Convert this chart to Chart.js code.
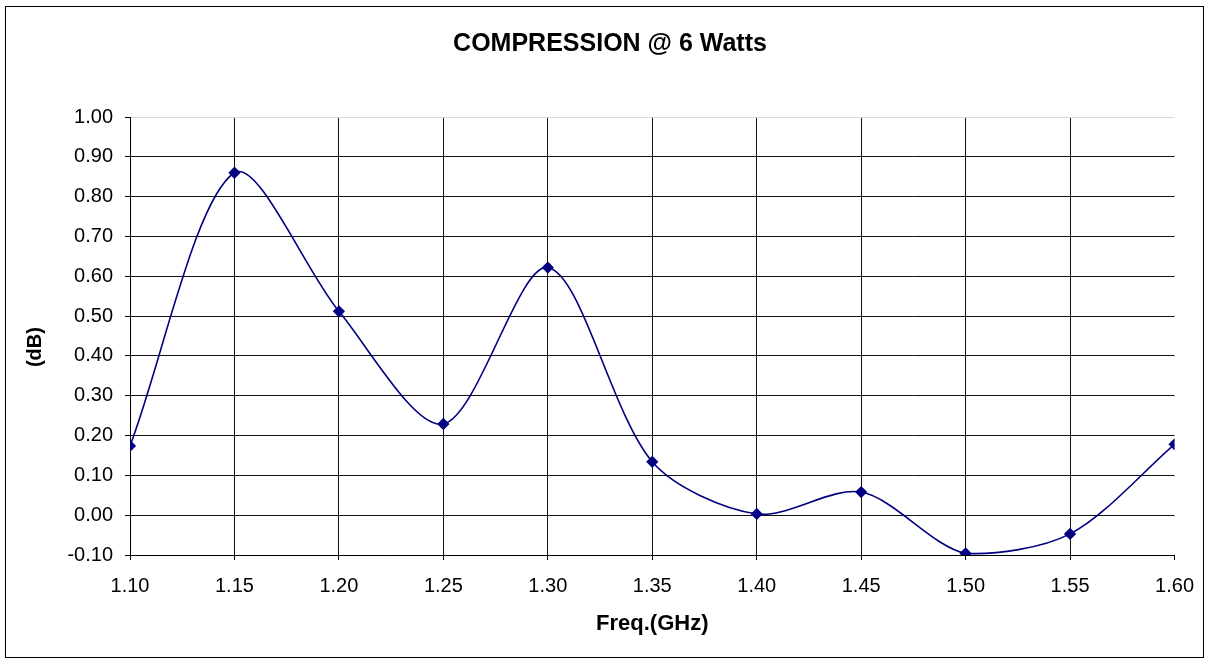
<!DOCTYPE html>
<html>
<head>
<meta charset="utf-8">
<script src="https://cdn.jsdelivr.net/npm/chart.js@4/dist/chart.umd.min.js"></script>
<style>
  html, body { margin: 0; padding: 0; background: #fff; }
  #wrap { width: 1208px; height: 660px; position: relative; }
</style>
</head>
<body>
<div id="wrap"><canvas id="c" width="1208" height="660"></canvas></div>
<script>
const freqs = [1.10, 1.15, 1.20, 1.25, 1.30, 1.35, 1.40, 1.45, 1.50, 1.55, 1.60];
const compression = [0.174, 0.860, 0.512, 0.229, 0.622, 0.134, 0.003, 0.058, -0.096, -0.047, 0.178];
const titleText = 'COMPRESSION @ 6 Watts';
const xTitle = 'Freq.(GHz)';
const yTitle = '(dB)';

const FONT = "'Liberation Sans', Arial, sans-serif";

const frame = {
  id: 'frame',
  beforeDraw(chart) {
    const ctx = chart.ctx;
    ctx.save();
    ctx.fillStyle = '#fff';
    ctx.fillRect(0, 0, chart.width, chart.height);
    ctx.strokeStyle = '#000';
    ctx.lineWidth = 1;
    ctx.strokeRect(5.5, 6.5, 1198, 651);
    ctx.restore();
  }
};

new Chart(document.getElementById('c'), {
  type: 'line',
  data: {
    datasets: [{
      data: freqs.map((f, i) => ({ x: f, y: compression[i] })),
      borderColor: '#000080',
      backgroundColor: '#000080',
      borderWidth: 1.6,
      pointStyle: 'rectRot',
      pointRadius: 5,
      pointHoverRadius: 5,
      tension: 0.3,
      fill: false
    }]
  },
  options: {
    responsive: false,
    animation: false,
    events: [],
    layout: { padding: { left: 45, right: 33, top: 0, bottom: 0 } },
    plugins: {
      legend: { display: false },
      tooltip: { enabled: false },
      title: {
        display: true,
        text: titleText,
        color: '#000',
        font: { family: FONT, size: 25, weight: 'bold' },
        padding: { top: 29, bottom: 58 }
      }
    },
    scales: {
      x: {
        type: 'linear',
        min: 1.1,
        max: 1.6,
        afterFit(scale) { scale.height = 105; },
        ticks: {
          stepSize: 0.05,
          color: '#000',
          font: { family: FONT, size: 20 },
          padding: 14,
          maxRotation: 0,
          callback: v => Number(v).toFixed(2)
        },
        grid: {
          color: ctx => (ctx.tick && Math.abs(ctx.tick.value - 1.6) < 1e-6) ? 'rgba(0,0,0,0)' : '#111',
          tickColor: '#000',
          tickLength: 5,
          lineWidth: 1
        },
        border: { color: '#000', width: 1 },
        title: {
          display: true,
          text: xTitle,
          color: '#000',
          font: { family: FONT, size: 22, weight: 'bold' },
          padding: { top: 0, bottom: 23 }
        }
      },
      y: {
        min: -0.1,
        max: 1.0,
        afterFit(scale) { scale.width = 85; },
        ticks: {
          stepSize: 0.1,
          color: '#000',
          font: { family: FONT, size: 20 },
          padding: 12,
          callback: v => Number(v).toFixed(2)
        },
        grid: {
          color: ctx => (ctx.tick && Math.abs(ctx.tick.value - 1.0) < 1e-6) ? '#d8d8d8' : '#111',
          tickColor: '#000',
          tickLength: 5,
          lineWidth: 1
        },
        border: { color: '#000', width: 1 },
        title: {
          display: true,
          text: yTitle + '\u00A0\u00A0\u00A0\u00A0',
          color: '#000',
          font: { family: FONT, size: 20, weight: 'bold' },
          padding: { top: -22, bottom: 0 }
        }
      }
    }
  },
  plugins: [frame]
});
</script>
</body>
</html>
